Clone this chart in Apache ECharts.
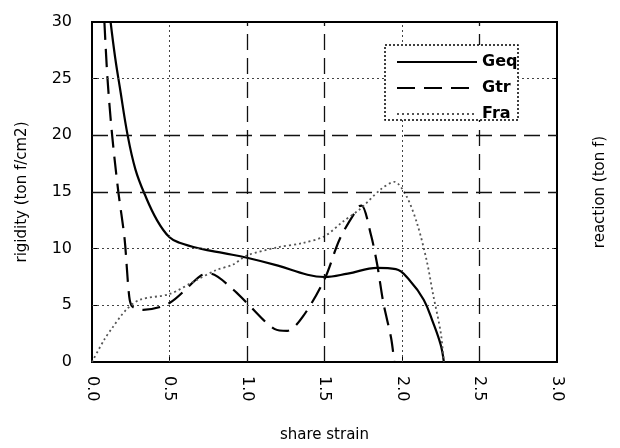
<!DOCTYPE html>
<html><head><meta charset="utf-8">
<script src="https://cdn.jsdelivr.net/npm/echarts@6/dist/echarts.min.js"></script>
<style>html,body{margin:0;padding:0;background:#fff;overflow:hidden}#c{width:620px;height:448px}</style>
</head><body><div id="c"></div>
<script>
var xTicks = [0.0, 0.5, 1.0, 1.5, 2.0, 2.5, 3.0];
var yTicks = [0, 5, 10, 15, 20, 25, 30];
var geq = [[0.12,30],[0.15,26.8],[0.18,24.2],[0.23,20],[0.28,17],[0.34,14.8],[0.42,12.5],[0.5,11.0],[0.57,10.5],[0.7,10.0],[0.85,9.6],[1.0,9.2],[1.2,8.5],[1.39,7.7],[1.5,7.5],[1.65,7.8],[1.84,8.3],[1.96,8.2],[2.05,7.2],[2.14,5.5],[2.2,3.5],[2.25,1.5],[2.27,0]];
var gtr = [[0.08,30],[0.10,25],[0.13,20],[0.17,15],[0.21,10.9],[0.24,5.8],[0.26,4.9],[0.33,4.6],[0.5,5.2],[0.7,7.6],[0.76,7.8],[0.91,6.4],[1.0,5.2],[1.18,2.9],[1.26,2.75],[1.36,4.0],[1.5,7.3],[1.6,10.9],[1.72,13.7],[1.74,13.8],[1.8,11.2],[1.84,8.6],[1.88,5.2],[1.93,2.1],[1.95,0]];
var fra = [[0,0],[0.08,2.0],[0.13,3.0],[0.22,4.6],[0.31,5.5],[0.5,6.0],[0.67,7.2],[0.8,8.1],[0.91,8.6],[1.0,9.4],[1.19,10.1],[1.36,10.5],[1.5,11.1],[1.62,12.4],[1.73,13.5],[1.86,15.2],[1.95,15.9],[2.03,14.6],[2.1,12.1],[2.16,8.9],[2.2,6.0],[2.25,2.6],[2.27,0]];
var vGridDotted = [0.5, 2.0];
var vGridDashed = [1.0, 1.5, 2.5];
var hGridDotted = [5, 10, 25];
var hGridDashed = [15, 20];

var dotStyle = {type:[2,3], color:'#444', width:1};
var dashStyle = {type:[16,8], color:'#111', width:1.3};
var mlData = [];
vGridDotted.forEach(function(v){mlData.push({xAxis:v, lineStyle:dotStyle});});
vGridDashed.forEach(function(v){mlData.push({xAxis:v, lineStyle:dashStyle});});
hGridDotted.forEach(function(v){mlData.push({yAxis:v, lineStyle:dotStyle});});
hGridDashed.forEach(function(v){mlData.push({yAxis:v, lineStyle:dashStyle});});

var font = 'DejaVu Sans';
var chart = echarts.init(document.getElementById('c'), null, {width:620, height:448});
chart.setOption({
  animation:false,
  backgroundColor:'#fff',
  grid:{left:92, right:63, top:22, bottom:83, show:true, borderColor:'#000', borderWidth:2, backgroundColor:'transparent'},
  xAxis:{type:'value', min:0, max:3, interval:0.5,
    name:'share strain', nameLocation:'middle', nameGap:66,
    nameTextStyle:{fontFamily:font, fontSize:15, color:'#000'},
    axisLine:{lineStyle:{color:'#000', width:2}},
    axisTick:{inside:true, length:5, lineStyle:{color:'#000'}},
    splitLine:{show:false},
    axisLabel:{rotate:-90, margin:14, fontFamily:font, fontSize:16, color:'#000',
      formatter:function(v){return v.toFixed(1);}}
  },
  yAxis:[{type:'value', min:0, max:30, interval:5,
    name:'rigidity (ton f/cm2)', nameLocation:'middle', nameGap:62, nameRotate:90,
    nameTextStyle:{fontFamily:font, fontSize:15, color:'#000'},
    axisLine:{show:true, lineStyle:{color:'#000', width:2}},
    axisTick:{inside:true, length:5, lineStyle:{color:'#000'}},
    splitLine:{show:false},
    axisLabel:{margin:20, fontFamily:font, fontSize:16, color:'#000'}
  },{type:'value', min:0, max:30, interval:5, position:'right',
    name:'reaction (ton f)', nameLocation:'middle', nameGap:36, nameRotate:90,
    nameTextStyle:{fontFamily:font, fontSize:15, color:'#000'},
    axisLine:{show:true, lineStyle:{color:'#000', width:2}},
    axisTick:{inside:true, length:4, lineStyle:{color:'#000'}},
    splitLine:{show:false},
    axisLabel:{show:false}
  }],
  graphic:[{type:'rect', shape:{x:385, y:45, width:133, height:75},
    style:{fill:'#fff', stroke:'#000', lineWidth:1.5, lineDash:[2,2]}, z:90}],
  legend:{orient:'vertical', left:391, top:49, itemWidth:80, itemHeight:14, itemGap:10, z:100,
    itemStyle:{opacity:0},
    textStyle:{fontFamily:font, fontSize:16, fontWeight:'bold', color:'#000'},
    data:['Geq','Gtr','Fra']},
  series:[
    {name:'grid', type:'line', data:[], silent:true,
      markLine:{symbol:'none', silent:true, label:{show:false}, data:mlData}},
    {name:'Geq', type:'line', data:geq, symbol:'none', smooth:0.4,
      lineStyle:{color:'#000', width:2.2}, itemStyle:{color:'#000'}},
    {name:'Gtr', type:'line', data:gtr, symbol:'none', smooth:0.3,
      lineStyle:{color:'#000', width:2.2, type:[18,9]}, itemStyle:{color:'#000'}},
    {name:'Fra', type:'line', data:fra, symbol:'none', smooth:0.3,
      lineStyle:{color:'#555', width:1.8, type:[2,3]}, itemStyle:{color:'#555'}}
  ]
});
</script></body></html>
